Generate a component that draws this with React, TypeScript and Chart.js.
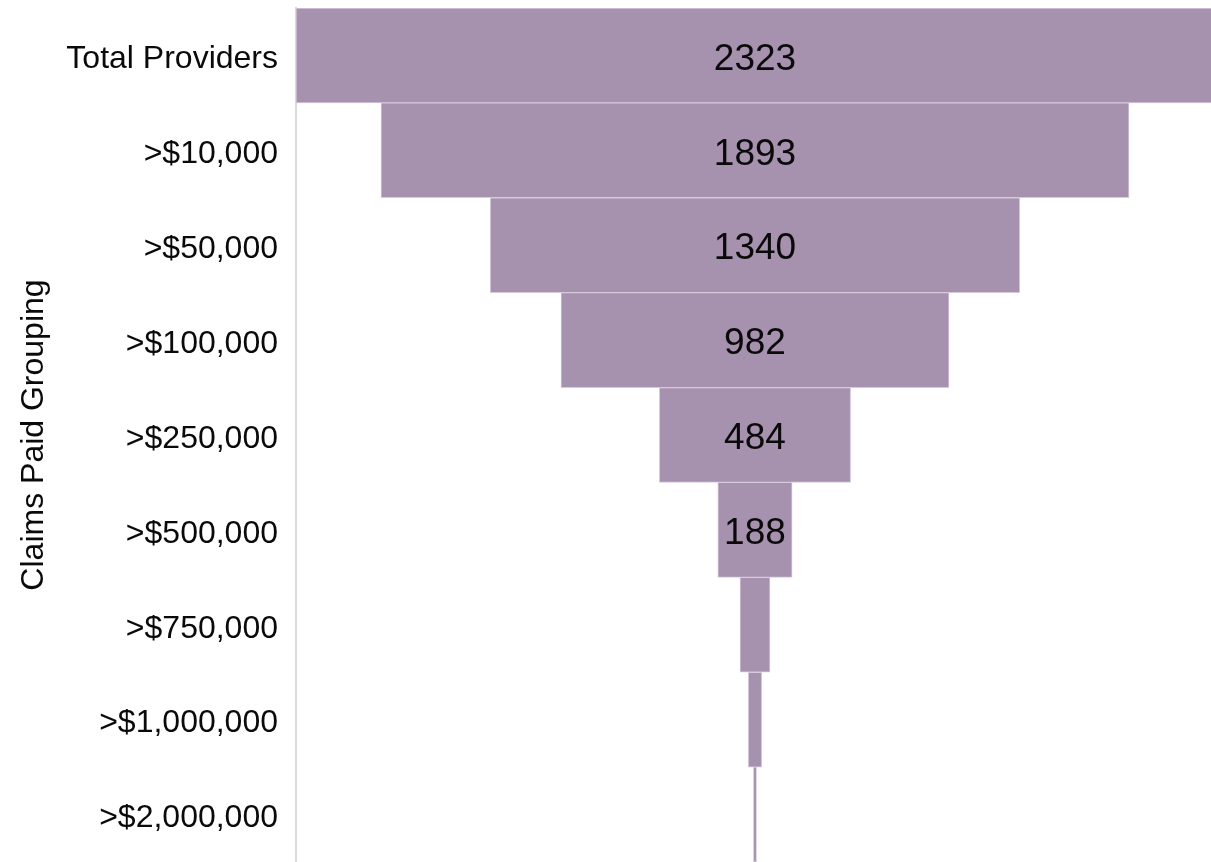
import React, { useEffect, useRef } from "react";
import { Chart, registerables } from "chart.js";

Chart.register(...registerables);

const categories = [
  "Total Providers",
  ">$10,000",
  ">$50,000",
  ">$100,000",
  ">$250,000",
  ">$500,000",
  ">$750,000",
  ">$1,000,000",
  ">$2,000,000",
];
const providerCounts = [2323, 1893, 1340, 982, 484, 188, 76, 34, 8];
const labelThreshold = 150;
const axisTitle = "Claims Paid Grouping";

const FONT = "'Liberation Sans', Arial, sans-serif";

const valueLabels = {
  id: "valueLabels",
  afterDatasetsDraw(chart: any) {
    const ctx = chart.ctx;
    const meta = chart.getDatasetMeta(0);
    ctx.save();
    ctx.font = `37px ${FONT}`;
    ctx.fillStyle = "#0a0a0a";
    ctx.textAlign = "center";
    ctx.textBaseline = "middle";
    meta.data.forEach((bar: any, i: number) => {
      const v = providerCounts[i];
      if (v < labelThreshold) return;
      const cx = chart.scales.x.getPixelForValue(0);
      ctx.fillText(String(v), cx, bar.y + 4);
    });
    ctx.restore();
  },
};

export default function App() {
  const ref = useRef<HTMLCanvasElement | null>(null);
  useEffect(() => {
    document.body.style.margin = "0";
    const half = providerCounts[0] / 2;
    const chart = new Chart(ref.current as HTMLCanvasElement, {
      type: "bar",
      data: {
        labels: categories,
        datasets: [
          {
            data: providerCounts.map((v) => [-v / 2, v / 2]) as any,
            backgroundColor: "#a691ae",
            borderColor: "#d6cadb",
            borderWidth: 1,
            borderSkipped: false,
            categoryPercentage: 1,
            barPercentage: 1,
          },
        ],
      },
      options: {
        indexAxis: "y",
        animation: false,
        responsive: false,
        maintainAspectRatio: false,
        layout: { padding: { top: 8, bottom: 0, left: 0, right: 0 } },
        plugins: {
          legend: { display: false },
          tooltip: { enabled: false },
        },
        scales: {
          x: {
            display: false,
            min: -half,
            max: 1154,
          },
          y: {
            grid: { display: false, drawTicks: false },
            border: { display: true, color: "#d9d9d9", width: 2 },
            ticks: {
              color: "#0a0a0a",
              font: { size: 32, family: FONT },
              padding: 18,
              labelOffset: 4,
            },
            title: {
              display: true,
              text: axisTitle,
              color: "#0a0a0a",
              font: { size: 32, family: FONT },
              padding: { top: 15, bottom: 0 },
            },
            afterFit(scale: any) {
              scale.width = 296;
              scale.paddingTop = 0;
              scale.paddingBottom = 0;
            },
          },
        },
      },
      plugins: [valueLabels],
    });
    return () => chart.destroy();
  }, []);
  return (
    <div style={{ position: "fixed", left: 0, top: 0, width: 1211, height: 862 }}>
      <canvas ref={ref} width={1211} height={862} style={{ display: "block", width: 1211, height: 862 }} />
    </div>
  );
}
